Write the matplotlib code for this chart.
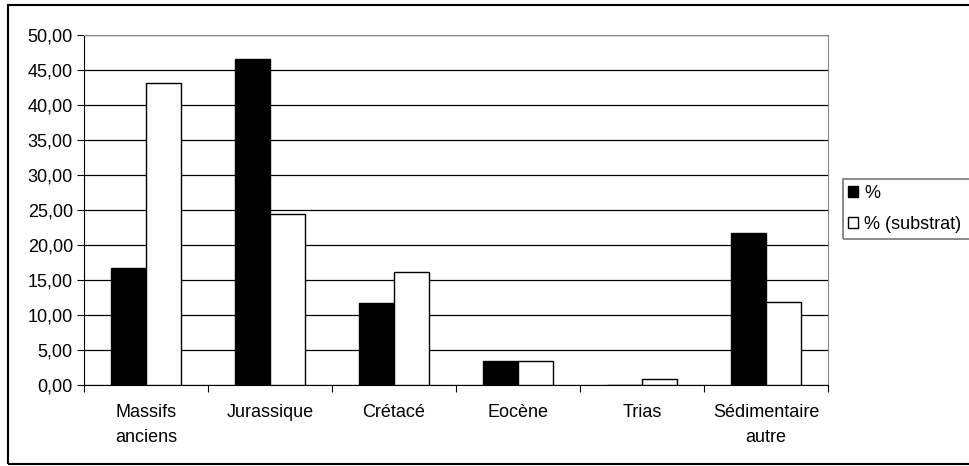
import numpy as np
import matplotlib.pyplot as plt
from matplotlib.patches import Patch, Rectangle
from matplotlib.ticker import FuncFormatter

categories = ['Massifs\nanciens', 'Jurassique', 'Crétacé', 'Eocène', 'Trias', 'Sédimentaire\nautre']
pct = [16.7, 46.6, 11.7, 3.5, 0.0, 21.7]
pct_substrat = [43.1, 24.5, 16.2, 3.5, 0.85, 11.8]

plt.rcParams['font.family'] = ['Liberation Sans', 'DejaVu Sans']

W, H = 969, 466
fig = plt.figure(figsize=(W/100, H/100), dpi=100)
ax = fig.add_axes([84/W, 1-385/H, (828-84)/W, 350/H])

x = np.arange(len(categories))
w = 0.286
ax.bar(x - w/2, pct, w, color='black', edgecolor='black', linewidth=1, label='%', zorder=3)
ax.bar(x + w/2, pct_substrat, w, color='white', edgecolor='black', linewidth=1, label='% (substrat)', zorder=3)

ax.set_xlim(-0.5, len(categories) - 0.5)
ax.set_ylim(0, 50)
ax.set_yticks(np.arange(0, 51, 5))
ax.yaxis.set_major_formatter(FuncFormatter(lambda v, p: ('%.2f' % v).replace('.', ',')))
ax.set_xticks(x)
ax.set_xticklabels(categories, fontsize=13, linespacing=1.55)
ax.set_xticks(np.arange(-0.5, len(categories)), minor=True)
ax.tick_params(axis='x', which='major', length=0, pad=14)
ax.tick_params(axis='x', which='minor', length=5, direction='out', width=0.8)
ax.tick_params(axis='y', length=5, direction='out', labelsize=13, width=0.8, pad=3)
ax.yaxis.grid(True, color='black', linewidth=0.9, zorder=0)
ax.set_axisbelow(True)
for s in ['top', 'right']:
    ax.spines[s].set_color('#888888')
for s in ['left', 'bottom']:
    ax.spines[s].set_color('black')

handles = [Patch(facecolor='black', edgecolor='black', label='%'),
           Patch(facecolor='white', edgecolor='black', label='% (substrat)')]
leg = fig.legend(handles=handles, loc='center left', bbox_to_anchor=(848/W, 1-209/H),
                 fontsize=13, frameon=False, handlelength=0.55, handleheight=0.55,
                 handletextpad=0.35, borderpad=0, labelspacing=0.75, borderaxespad=0)
fig.patches.append(Rectangle((843/W, 1-239/H), 140/W, 60/H, transform=fig.transFigure,
                             fill=False, edgecolor='#777777', linewidth=1.2))

fig.patches.append(Rectangle((8/W, 1-464/H), 975/W, 459/H, transform=fig.transFigure,
                             fill=False, edgecolor='black', linewidth=1.5))

fig.savefig('out.png', dpi=100)
